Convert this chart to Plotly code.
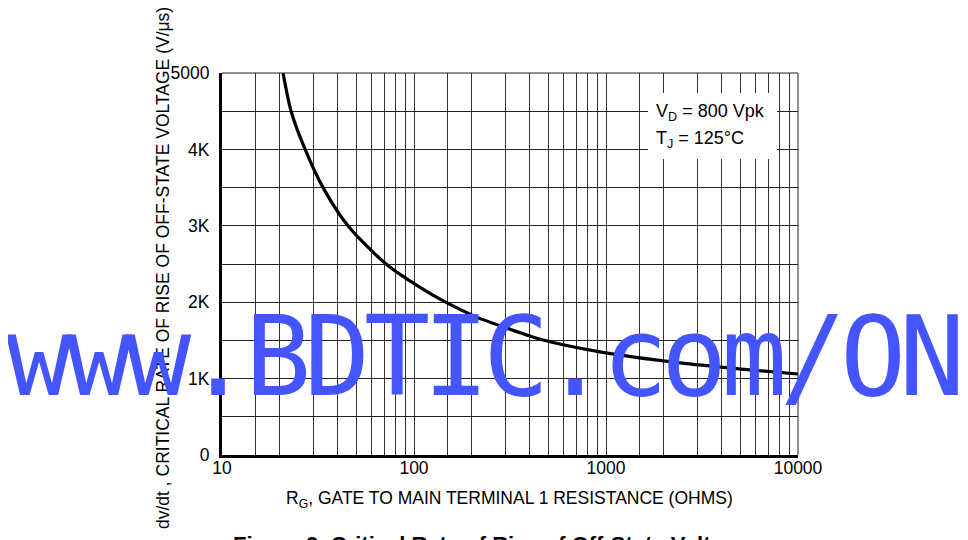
import plotly.graph_objects as go

# ---- data ----
r_gate_ohms = [20.8, 22.9, 27.1, 33.6, 45.3, 71.5, 105, 146, 212, 305, 470, 930, 2430, 5050, 10000]
dvdt_v_per_us = [5000, 4500, 4000, 3500, 3000, 2500, 2210, 2000, 1805, 1660, 1505, 1350, 1205, 1125, 1060]

grid_multipliers = [1, 1.5, 2, 3, 4, 5, 6, 7, 8, 9]
x_tick_values = [m * 10 ** d for d in range(1, 4) for m in grid_multipliers] + [10000]
x_tick_labels = [str(int(v)) if v in (10, 100, 1000, 10000) else "" for v in x_tick_values]
y_tick_values = [0, 500, 1000, 1500, 2000, 2500, 3000, 3500, 4000, 4500, 5000]
y_tick_labels = ["0", "", "1K", "", "2K", "", "3K", "", "4K", "", "5000"]

x_title = "R<sub>G</sub>, GATE TO MAIN TERMINAL 1 RESISTANCE (OHMS)"
y_title = "dv/dt , CRITICAL RATE OF RISE OF OFF-STATE VOLTAGE (V/μs)"
cond_lines = ["V<sub>D</sub> = 800 Vpk", "T<sub>J</sub> = 125°C"]
fig_caption = "Figure 9. Critical Rate of Rise of Off-State Voltage"
watermark = "www.BDTIC.com/ON"

SANS = "Liberation Sans, Arial, sans-serif"
MONO = "DejaVu Sans Mono, Liberation Mono, monospace"

# page body has an 8px margin -> figure is shifted; compensate
OFF = 8
W, H = 968 - OFF, 540 - OFF
# plot area in reference pixels: x 222..798, y 73..455
L, T = 222 - OFF, 73 - OFF
R, B = W - (798 - OFF), H - (455 - OFF)
PW, PH = 576, 382


def px_to_paper_x(px):
    return (px - 222) / PW


def px_to_paper_y(py):
    return (455 - py) / PH


fig = go.Figure()
fig.add_trace(go.Scatter(
    x=r_gate_ohms, y=dvdt_v_per_us, mode="lines",
    line=dict(color="black", width=3.2, shape="spline", smoothing=0.8),
    hoverinfo="skip", showlegend=False,
))

fig.update_layout(
    width=W, height=H,
    margin=dict(l=L, r=R, t=T, b=B, pad=0, autoexpand=False),
    paper_bgcolor="white", plot_bgcolor="white",
    showlegend=False,
    font=dict(family=SANS, color="black", size=17),
    xaxis=dict(
        type="log", range=[1, 4],
        tickvals=x_tick_values, ticktext=x_tick_labels,
        showgrid=True, gridcolor="#333", gridwidth=1,
        showline=True, linecolor="black", linewidth=3,
        ticks="", zeroline=False, ticklabelstandoff=-5,
        tickfont=dict(family=SANS, size=17.5), automargin=False,
    ),
    yaxis=dict(
        range=[0, 5000],
        tickvals=y_tick_values, ticktext=y_tick_labels,
        showgrid=True, gridcolor="#222", gridwidth=1,
        showline=True, linecolor="black", linewidth=3,
        ticks="", zeroline=False, ticklabelstandoff=6,
        tickfont=dict(family=SANS, size=17.5), automargin=False,
    ),
)

# top and right frame gridlines (at range edges)
fig.add_shape(type="line", xref="paper", yref="paper", x0=0, x1=1, y0=1, y1=1,
              line=dict(color="#222", width=1))
fig.add_shape(type="line", xref="paper", yref="paper", x0=1, x1=1, y0=0, y1=1,
              line=dict(color="#222", width=1))

# white box behind the conditions text
fig.add_shape(type="rect", xref="paper", yref="paper",
              x0=px_to_paper_x(648), x1=px_to_paper_x(777),
              y0=px_to_paper_y(159), y1=px_to_paper_y(93),
              fillcolor="white", line=dict(width=0), layer="above")

for i, txt in enumerate(cond_lines):
    fig.add_annotation(
        text=txt, xref="paper", yref="paper",
        x=px_to_paper_x(654), y=px_to_paper_y(112 + 27 * i),
        xanchor="left", yanchor="middle", showarrow=False,
        font=dict(family=SANS, size=18, color="black"),
    )

# axis titles
fig.add_annotation(
    text=x_title, xref="paper", yref="paper",
    x=px_to_paper_x(509), y=px_to_paper_y(499),
    xanchor="center", yanchor="middle", showarrow=False,
    font=dict(family=SANS, size=17.5, color="black"),
)
fig.add_annotation(
    text=y_title, xref="paper", yref="paper",
    x=px_to_paper_x(163), y=px_to_paper_y(268),
    xanchor="center", yanchor="middle", showarrow=False, textangle=-90,
    font=dict(family=SANS, size=17.5, color="black"),
)

# figure caption (mostly cut by the page bottom)
fig.add_annotation(
    text="<b>" + fig_caption + "</b>", xref="paper", yref="paper",
    x=px_to_paper_x(231), y=px_to_paper_y(544),
    xanchor="left", yanchor="middle", showarrow=False,
    font=dict(family=SANS, size=22, color="black"),
)

# watermark, one glyph per fixed-width cell
cell = 59.5
for i, ch in enumerate(watermark):
    fig.add_annotation(
        text=ch, xref="paper", yref="paper",
        x=px_to_paper_x(10 + cell * (i + 0.5)), y=px_to_paper_y(357),
        xanchor="center", yanchor="middle", showarrow=False,
        font=dict(family=MONO, size=110, color="#4455ff"),
    )

fig.write_html("out.html")
